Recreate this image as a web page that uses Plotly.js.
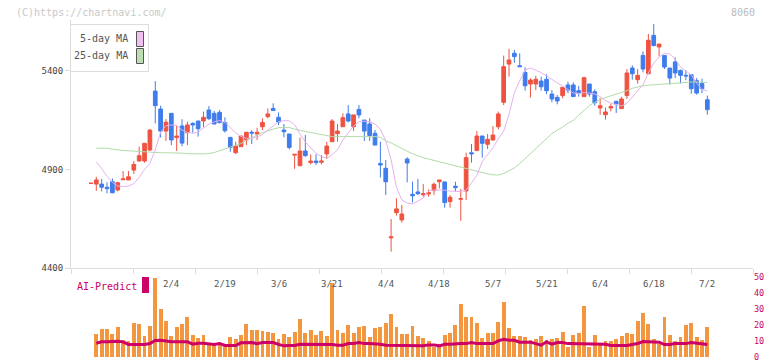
<!DOCTYPE html>
<html><head><meta charset="utf-8">
<script src="https://cdn.plot.ly/plotly-3.0.1.min.js"></script>
<style>html,body{margin:0;padding:0;background:#fff}#chart{width:772px;height:361px}</style>
</head><body><div id="chart"></div>
<script>
// ---- data (index -1 .. 114, one entry per trading day) ----
const open  = [4830,4826,4826,4810,4838,4796,4848,4847,4897,4943,4943,4999,5298,5207,5095,5185,5062,5121,5087,5134,5146,5146,5202,5185,5190,5139,5063,4985,5016,5050,5089,5080,5117,5168,5210,5165,5100,5080,4973,4919,4994,4935,4943,4937,4979,5041,5082,5117,5182,5117,5205,5151,5131,5084,4930,4906,4553,4681,4644,4953,4774,4786,4772,4776,4793,4838,4837,4737,4815,4749,4791,4985,4996,5070,5028,5050,5117,5241,5435,5490,5427,5393,5334,5334,5349,5358,5283,5266,5275,5329,5329,5300,5270,5334,5295,5212,5178,5212,5246,5209,5275,5415,5356,5479,5386,5581,5522,5479,5415,5446,5403,5378,5381,5351,5336,5254];
const high  = [4830,4863,4852,4835,4855,4838,4892,4892,4943,5016,5033,5106,5349,5224,5156,5185,5121,5155,5143,5140,5146,5194,5222,5197,5202,5165,5063,5041,5070,5089,5100,5112,5160,5210,5236,5190,5131,5080,4977,5062,5075,4977,4977,4973,5041,5156,5131,5185,5227,5177,5227,5151,5160,5101,5041,4948,4649,4754,4720,4962,4838,4852,4826,4799,4833,4847,4837,4771,4838,4801,4985,5029,5095,5070,5080,5121,5194,5478,5512,5507,5490,5419,5363,5375,5371,5383,5303,5278,5317,5346,5342,5324,5371,5334,5307,5263,5215,5234,5249,5268,5410,5429,5410,5500,5588,5638,5537,5479,5415,5469,5407,5403,5381,5364,5361,5275];
const low   = [4830,4792,4789,4779,4779,4789,4847,4847,4877,4940,4935,4994,5134,5062,5045,5024,4994,5018,5024,5087,5067,5114,5151,5131,5134,5087,4990,4979,5016,5024,5029,5050,5100,5160,5199,5126,5063,5002,4903,4919,4965,4926,4923,4926,4953,5041,5041,5117,5139,5095,5160,5045,5045,5024,4859,4771,4483,4666,4630,4835,4733,4771,4762,4762,4771,4804,4706,4706,4788,4639,4745,4935,4996,4960,5004,5045,5104,5227,5371,5442,5422,5300,5265,5303,5300,5282,5241,5231,5261,5287,5270,5270,5270,5270,5224,5178,5153,5195,5187,5209,5258,5356,5336,5393,5386,5525,5474,5410,5331,5364,5336,5353,5285,5280,5288,5178];
const close = [4830,4847,4810,4803,4782,4833,4852,4863,4926,4970,5033,5100,5224,5095,5140,5050,5070,5034,5126,5126,5107,5165,5158,5131,5138,5097,5012,5019,5070,5089,5085,5089,5139,5182,5199,5141,5092,5012,4977,4994,4970,4943,4935,4943,5019,5146,5095,5163,5146,5177,5177,5095,5072,5024,4923,4838,4558,4700,4674,4933,4767,4777,4777,4782,4825,4847,4732,4759,4808,4752,4960,4980,5070,5033,5053,5075,5182,5422,5456,5473,5422,5325,5354,5358,5320,5300,5258,5248,5317,5303,5270,5290,5366,5283,5239,5224,5192,5219,5232,5258,5390,5386,5378,5410,5556,5529,5537,5420,5364,5390,5378,5375,5310,5288,5310,5204];
const ma5   = [null,4937,4905,4865,4835,4816,4814,4816,4828,4860,4900,4931,5000,5090,5122,5126,5124,5100,5088,5084,5090,5110,5130,5142,5148,5140,5115,5085,5068,5058,5058,5065,5078,5100,5120,5143,5148,5147,5128,5080,5040,5010,4982,4965,4957,4975,5000,5050,5085,5120,5143,5145,5143,5130,5105,5045,4950,4810,4745,4730,4725,4740,4755,4790,4796,4796,4795,4790,4788,4788,4795,4830,4870,4940,4975,5010,5055,5095,5180,5290,5350,5405,5415,5405,5392,5375,5358,5340,5325,5305,5288,5285,5290,5288,5283,5270,5250,5238,5228,5222,5236,5266,5300,5330,5390,5440,5470,5490,5486,5460,5420,5400,5380,5340,5305,5300];
const ma25  = [null,5008,5008,5008,5003,4999,4997,4995,4993,4991,4990,4988,4986,4985,4985,4985,4985,4983,4980,4979,4979,4979,4981,4986,4995,5005,5012,5022,5032,5048,5063,5075,5087,5097,5105,5112,5114,5113,5105,5098,5093,5088,5082,5076,5070,5067,5067,5067,5067,5067,5067,5067,5067,5067,5063,5045,5035,5020,5005,4993,4980,4968,4960,4953,4946,4938,4932,4925,4918,4912,4903,4897,4890,4884,4878,4873,4872,4880,4894,4908,4930,4955,4980,5005,5035,5058,5082,5100,5115,5135,5150,5175,5200,5225,5240,5255,5265,5273,5282,5290,5300,5312,5320,5325,5328,5330,5333,5336,5338,5340,5342,5343,5344,5344,5343,5342];
const volume = [null,14.4,17.5,17.5,14.4,18.75,10.8,10,21.25,20.6,13.1,19.4,49.4,30,22.5,13.1,18.75,20.6,24.9,13.75,11.9,13.75,8.1,8.1,7.5,6.7,12.5,11.25,13.75,20.6,16.9,16.9,16.25,15.6,15,11.25,14.4,12.5,15.6,23.75,15,16.9,13.75,16.25,13.1,46.25,16.9,15,20,15,18.75,19.4,12.5,18.1,18.75,21.25,26.9,18.75,14.4,14.4,19.4,13.1,11.9,10,6.25,6.25,13.75,15,20,33.1,25,25,21.25,11.9,15,15,21.9,34.4,18.1,13.1,13.1,12.5,10.6,11.25,13.1,10.6,11.25,11.9,15.6,6.25,13.75,15,31.9,6.25,13.75,7.5,10,10,11.25,13.1,15,14.4,22.5,27.5,20.6,11.25,8.1,25,14,10,12.5,20,21.5,12.5,11,18.75];
const aiPredict = [null,8.75,9.6,9.6,9.8,10,9.6,8.0,7.9,7.9,7.9,8.5,10.4,10.6,10.0,9.6,9.6,9.6,9.6,8.1,8.7,8.7,8.5,7.9,8.6,7.3,7.3,7.3,9.0,9.2,9.2,8.5,9.2,9.2,9.2,8.0,7.1,7.3,7.3,8.1,8.1,7.7,8.1,8.1,7.7,7.9,7.5,7.5,8.5,8.6,9.2,8.5,8.5,8.5,8.1,7.5,7.5,7.5,7.5,7.5,7.5,7.1,7.1,7.7,7.7,7.1,8.1,8.1,8.5,8.5,8.5,9.2,8.5,8.5,8.5,8.5,10.2,11.2,10.6,10.6,9.4,9.4,9.4,8.5,7.5,9.6,8.1,9.2,9.2,8.5,8.5,8.5,8.5,8.5,8.5,8.5,8.1,7.3,7.3,7.3,7.3,7.9,8.5,9.8,9.8,9.8,9.4,7.9,7.9,8.5,8.5,8.5,9.2,8.75,7.9,7.9];
const dateLabels = ['2/4','2/19','3/6','3/21','4/4','4/18','5/7','5/21','6/4','6/18','7/2'];
const dateLabelIdx = [14,24,34,44,54,64,74,84,94,104,114];
const priceTicks = [4400,4900,5400];
const volTicks = [0,10,20,30,40,50];

// ---- layout helpers ----
const idx = open.map((_, i) => i - 1);
const XL = -4.72, XR = 122.52;
const gridTicks = Array.from({length: 12}, (_, i) => XL + i * (XR - XL) / 11);
const PL = 71, PR = 753, PT = 20, PB = 358;
const xp = px => (px - PL) / (PR - PL);
const yp = py => (PB - py) / (PB - PT);
const MONO = 'DejaVu Sans Mono, monospace';
const RED = '#ef5340', BLUE = '#3f7cec';

const traces = [
  {type:'scatter', mode:'lines', x:idx, y:ma25, line:{color:'#b2dba8', width:1}, xaxis:'x', yaxis:'y', hoverinfo:'skip'},
  {type:'scatter', mode:'lines', x:idx, y:ma5, line:{color:'#e6b2ee', width:1}, xaxis:'x', yaxis:'y', hoverinfo:'skip'},
  {type:'candlestick', x:idx, open:open, high:high, low:low, close:close, xaxis:'x', yaxis:'y',
   increasing:{line:{color:RED, width:1}, fillcolor:RED},
   decreasing:{line:{color:BLUE, width:1}, fillcolor:BLUE}, whiskerwidth:0},
  {type:'bar', x:idx, y:volume, marker:{color:'#f2973f', line:{width:0}}, width:0.72, xaxis:'x2', yaxis:'y2', hoverinfo:'skip'},
  {type:'scatter', mode:'lines', x:idx, y:aiPredict, line:{color:'#cc0066', width:3}, xaxis:'x2', yaxis:'y2', hoverinfo:'skip'}
];

const annotations = dateLabels.map((t, i) => ({
  text:t, x:dateLabelIdx[i], xref:'x', y:yp(284), yref:'paper', showarrow:false,
  xanchor:'center', yanchor:'middle', font:{family:MONO, size:9, color:'#555'}
}));
annotations.push(
  {text:'(C)https://chartnavi.com/', x:xp(14), y:yp(12), xref:'paper', yref:'paper', showarrow:false, xanchor:'left', yanchor:'middle', font:{family:MONO, size:10, color:'#c8c8c8'}},
  {text:'8060', x:xp(757), y:yp(12), xref:'paper', yref:'paper', showarrow:false, xanchor:'right', yanchor:'middle', font:{family:MONO, size:10, color:'#bbb'}},
  {text:'5-day MA', x:xp(130), y:yp(39), xref:'paper', yref:'paper', showarrow:false, xanchor:'right', yanchor:'middle', font:{family:MONO, size:10, color:'#555'}},
  {text:'25-day MA', x:xp(130), y:yp(56), xref:'paper', yref:'paper', showarrow:false, xanchor:'right', yanchor:'middle', font:{family:MONO, size:10, color:'#555'}},
  {text:'AI-Predict', x:xp(75), y:yp(286), xref:'paper', yref:'paper', showarrow:false, xanchor:'left', yanchor:'middle', font:{family:MONO, size:10, color:'#cc0066'}}
);

const shapes = [
  {type:'rect', xref:'paper', yref:'paper', x0:xp(70.5), x1:xp(148.5), y0:yp(71.5), y1:yp(24.5), line:{color:'#ddd', width:1}, fillcolor:'#fff', layer:'above'},
  {type:'rect', xref:'paper', yref:'paper', x0:xp(136.5), x1:xp(143.5), y0:yp(46.5), y1:yp(31.5), line:{color:'#555', width:1}, fillcolor:'#f0c0f0', layer:'above'},
  {type:'rect', xref:'paper', yref:'paper', x0:xp(136.5), x1:xp(143.5), y0:yp(63.5), y1:yp(48.5), line:{color:'#555', width:1}, fillcolor:'#bcdeb0', layer:'above'},
  {type:'rect', xref:'paper', yref:'paper', x0:xp(142), x1:xp(149), y0:yp(293), y1:yp(277), line:{width:0}, fillcolor:'#cc0066', layer:'above'}
];

const layout = {
  width:772, height:361, margin:{l:PL, r:772-PR, t:PT, b:361-PB}, paper_bgcolor:'#fff', plot_bgcolor:'#fff',
  showlegend:false, boxgap:0.17, boxgroupgap:0.17, bargap:0,
  xaxis:{domain:[0,1], anchor:'y', range:[XL,XR], tickvals:gridTicks, showticklabels:false, ticks:'outside', ticklen:5, tickcolor:'#ddd',
         showline:true, linecolor:'#ddd', linewidth:1, showgrid:false, zeroline:false, rangeslider:{visible:false}, fixedrange:true},
  xaxis2:{domain:[0,1], anchor:'y2', range:[XL,XR], visible:false, fixedrange:true},
  yaxis:{domain:[90/338,1], anchor:'x', range:[4400, 4400+248*5.076], tickvals:priceTicks, ticks:'outside', ticklen:5, tickcolor:'#ddd',
         showline:true, linecolor:'#ddd', linewidth:1, showgrid:false, zeroline:false, tickfont:{family:MONO, size:9, color:'#444'}, fixedrange:true},
  yaxis2:{domain:[0,90/338], anchor:'x2', side:'right', range:[-0.5,55.75], tickvals:volTicks, ticks:'', showline:false, showgrid:false, zeroline:false,
          ticklabeloverflow:'allow', tickfont:{family:MONO, size:8.5, color:'#cc0066'}, fixedrange:true},
  annotations:annotations, shapes:shapes
};
Plotly.newPlot('chart', traces, layout, {staticPlot:true, displayModeBar:false});
</script></body></html>
